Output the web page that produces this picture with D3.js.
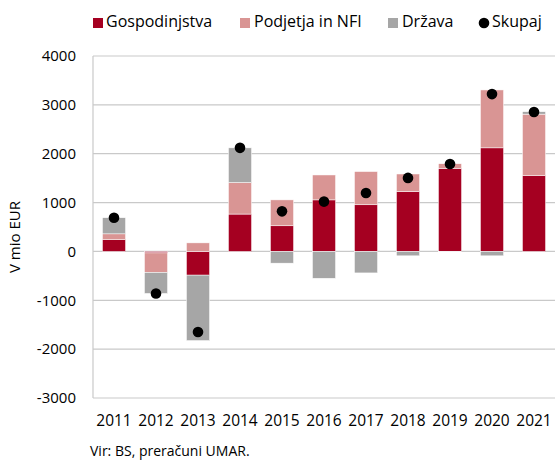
<!DOCTYPE html>
<html lang="sl">
<head>
  <meta charset="UTF-8">
  <title>Varčevanje po sektorjih</title>
  <script src="https://cdn.jsdelivr.net/npm/d3@7"></script>
  <style>
    body { margin: 0; background: #fff; }
    text { font-family: "Open Sans", sans-serif; fill: #000; }
  </style>
</head>
<body>
  <svg width="555" height="460"></svg>
  <script>
    var years = ["2011", "2012", "2013", "2014", "2015", "2016", "2017", "2018", "2019", "2020", "2021"];
    var gospodinjstva = [240, -30, -485, 765, 525, 1055, 955, 1225, 1700, 2120, 1550];
    var podjetja = [120, -400, 175, 645, 530, 510, 680, 360, 95, 1185, 1260];
    var drzava = [330, -430, -1340, 710, -240, -550, -440, -90, -10, -90, 50];
    var skupaj = [690, -860, -1650, 2120, 820, 1020, 1195, 1505, 1790, 3220, 2855];
    var yTicks = [-3000, -2000, -1000, 0, 1000, 2000, 3000, 4000];

    var keys = ["Gospodinjstva", "Podjetja in NFI", "Država"];
    var colors = ["#a50021", "#d99594", "#a6a6a6"];

    var rows = years.map(function (y, i) {
      return { year: y, "Gospodinjstva": gospodinjstva[i], "Podjetja in NFI": podjetja[i], "Država": drzava[i] };
    });

    var svg = d3.select("svg");

    var x = d3.scaleBand().domain(years).range([93, 555]).paddingInner(0.45).paddingOuter(0.225);
    var y = d3.scaleLinear().domain([-3000, 4000]).range([398, 56]);

    // gridlines
    svg.append("g")
      .selectAll("line")
      .data(yTicks)
      .enter()
      .append("line")
      .attr("x1", 93)
      .attr("x2", 555)
      .attr("y1", (d) => y(d))
      .attr("y2", (d) => y(d))
      .attr("stroke", "#c9c9c9")
      .attr("stroke-width", 1.2);

    svg.append("line")
      .attr("x1", 93).attr("x2", 93)
      .attr("y1", y(4000)).attr("y2", y(-3000))
      .attr("stroke", "#c9c9c9")
      .attr("stroke-width", 1.2);

    // y labels
    svg.append("g")
      .selectAll("text")
      .data(yTicks)
      .enter()
      .append("text")
      .attr("x", 76)
      .attr("y", (d) => y(d))
      .attr("dy", "0.35em")
      .attr("text-anchor", "end")
      .attr("font-size", 15)
      .text((d) => d);

    svg.append("text")
      .attr("transform", "translate(20,237) rotate(-90)")
      .attr("text-anchor", "middle")
      .attr("font-size", 15)
      .text("V mio EUR");

    // stacked bars
    var series = d3.stack().keys(keys).offset(d3.stackOffsetDiverging)(rows);

    svg.append("g")
      .selectAll("g")
      .data(series)
      .enter()
      .append("g")
      .attr("fill", (d, i) => colors[i])
      .selectAll("rect")
      .data((d) => d)
      .enter()
      .append("rect")
      .attr("x", (d) => x(d.data.year))
      .attr("width", x.bandwidth())
      .attr("y", (d) => y(Math.max(d[0], d[1])))
      .attr("height", (d) => Math.abs(y(d[0]) - y(d[1])))
      .attr("stroke", "#fff")
      .attr("stroke-width", 0.5);

    // total dots
    svg.append("g")
      .selectAll("circle")
      .data(skupaj)
      .enter()
      .append("circle")
      .attr("cx", (d, i) => x(years[i]) + x.bandwidth() / 2)
      .attr("cy", (d) => y(d))
      .attr("r", 5.3)
      .attr("fill", "#000");

    // x labels
    svg.append("g")
      .selectAll("text")
      .data(years)
      .enter()
      .append("text")
      .attr("x", (d) => x(d) + x.bandwidth() / 2)
      .attr("y", 426)
      .attr("text-anchor", "middle")
      .attr("font-size", 15.5)
      .text((d) => d);

    // legend
    var legend = [
      { label: "Gospodinjstva", color: colors[0], x: 93, tx: 106 },
      { label: "Podjetja in NFI", color: colors[1], x: 240, tx: 254 },
      { label: "Država", color: colors[2], x: 388, tx: 402 }
    ];
    legend.forEach(function (l) {
      svg.append("rect").attr("x", l.x).attr("y", 18).attr("width", 10).attr("height", 10).attr("fill", l.color);
      svg.append("text").attr("x", l.tx).attr("y", 27).attr("font-size", 16).text(l.label);
    });
    svg.append("circle").attr("cx", 484).attr("cy", 23).attr("r", 5.3).attr("fill", "#000");
    svg.append("text").attr("x", 492).attr("y", 27).attr("font-size", 16).text("Skupaj");

    svg.append("text")
      .attr("x", 90)
      .attr("y", 456)
      .attr("font-size", 14)
      .text("Vir: BS, preračuni UMAR.");
  </script>
</body>
</html>
